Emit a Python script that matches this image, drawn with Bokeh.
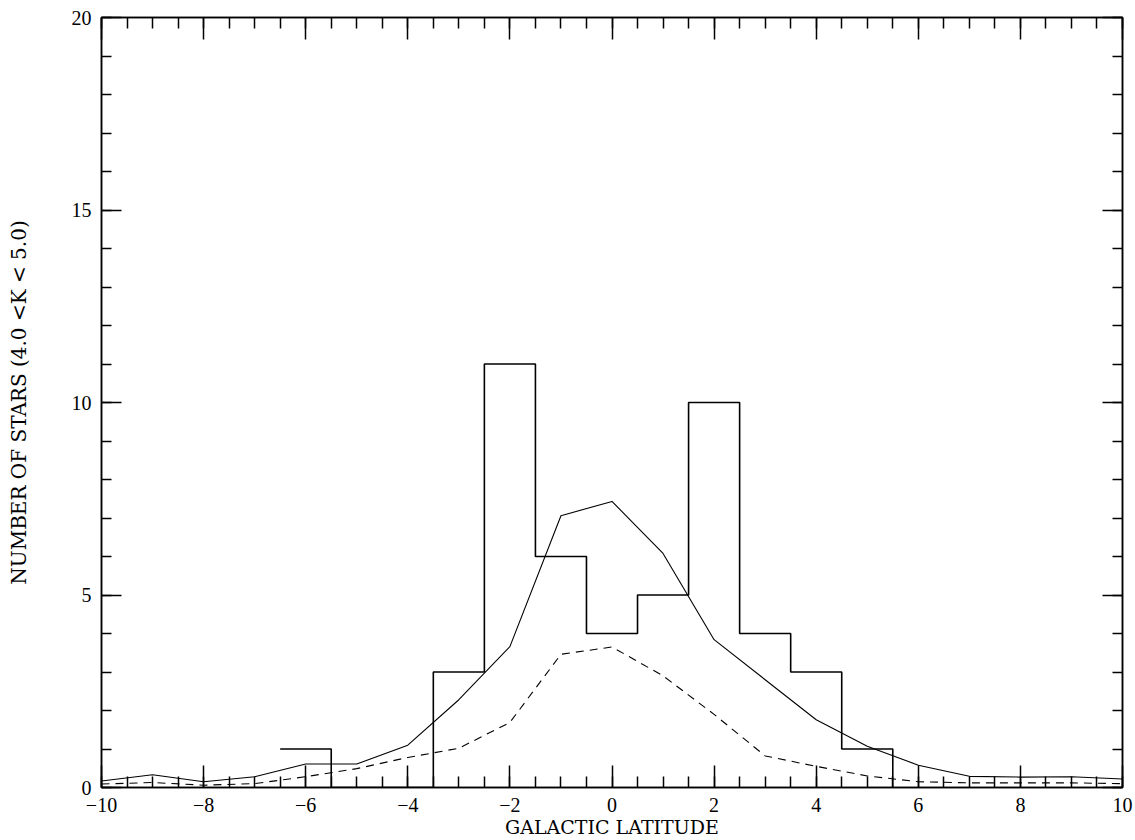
from bokeh.plotting import figure
from bokeh.models import LinearAxis, SingleIntervalTicker, Range1d
from bokeh.embed import file_html
from bokeh.resources import INLINE

# Histogram: left bin edges and counts (last edge closes the histogram)
hist_edges = [-6.5, -5.5, -4.5, -3.5, -2.5, -1.5, -0.5, 0.5, 1.5, 2.5, 3.5, 4.5, 5.5]
hist_counts = [1, 0, 0, 3, 11, 6, 4, 5, 10, 4, 3, 1, 0]

# Model curves at integer latitudes
lat = [-10, -9, -8, -7, -6, -5, -4, -3, -2, -1, 0, 1, 2, 3, 4, 5, 6, 7, 8, 9, 10]
model_solid = [0.17, 0.33, 0.15, 0.28, 0.61, 0.61, 1.10, 2.28, 3.66, 7.06, 7.43, 6.08, 3.84, 2.80, 1.76, 1.07, 0.58, 0.29, 0.27, 0.28, 0.22]
model_dashed = [0.09, 0.13, 0.06, 0.10, 0.28, 0.49, 0.78, 1.02, 1.69, 3.46, 3.65, 2.90, 1.90, 0.82, 0.55, 0.30, 0.15, 0.12, 0.12, 0.12, 0.10]

x_ticks = [-10, -8, -6, -4, -2, 0, 2, 4, 6, 8, 10]
y_ticks = [0, 5, 10, 15, 20]

TICK_FONT = "Liberation Serif"
LABEL_FONT = "DejaVu Serif"

p = figure(width=1135, height=840, output_backend="svg", toolbar_location=None,
           x_range=Range1d(-10, 10), y_range=Range1d(0, 20),
           min_border_left=101, min_border_right=13, min_border_top=17, min_border_bottom=53)
p.xgrid.visible = False
p.ygrid.visible = False
p.outline_line_color = "black"
p.outline_line_width = 1.5
p.background_fill_color = "white"
p.border_fill_color = "white"

def style_axis(ax, xaxis, show_labels):
    if xaxis:
        ax.ticker = SingleIntervalTicker(interval=2, num_minor_ticks=4)
        ax.major_tick_in = 22
        ax.minor_tick_in = 11
    else:
        ax.ticker = SingleIntervalTicker(interval=5, num_minor_ticks=5)
        ax.major_tick_in = 20
        ax.minor_tick_in = 10
    ax.major_tick_out = 0
    ax.minor_tick_out = 0
    ax.major_tick_line_color = "black"
    ax.minor_tick_line_color = "black"
    ax.major_tick_line_width = 1.5
    ax.minor_tick_line_width = 1.5
    ax.axis_line_color = "black"
    ax.axis_line_width = 1.5
    ax.major_label_text_font = TICK_FONT
    ax.major_label_text_font_size = "20px"
    ax.major_label_text_color = "black"
    if show_labels:
        ax.axis_label_text_font = LABEL_FONT
        ax.axis_label_text_font_style = "normal"
        ax.axis_label_text_color = "black"
    else:
        ticks = x_ticks if xaxis else y_ticks
        ax.major_label_overrides = {v: "" for v in ticks}
        ax.major_label_standoff = 0
        ax.axis_label = None

xa = p.xaxis[0]
style_axis(xa, True, True)
xa.axis_label = "GALACTIC LATITUDE"
xa.axis_label_text_font_size = "19px"
xa.major_label_standoff = 10
xa.axis_label_standoff = 1
xa.major_label_overrides = {v: (("\u2212" + str(-v)) if v < 0 else str(v)) for v in x_ticks}

ya = p.yaxis[0]
style_axis(ya, False, True)
ya.axis_label = "NUMBER OF STARS (4.0 <K < 5.0)"
ya.axis_label_text_font_size = "20px"
ya.major_label_standoff = 10
ya.axis_label_standoff = 38

top = LinearAxis()
style_axis(top, True, False)
p.add_layout(top, "above")
right = LinearAxis()
style_axis(right, False, False)
p.add_layout(right, "right")

p.step(x=hist_edges, y=hist_counts, mode="after", line_color="black", line_width=1.6)
p.line(lat, model_solid, line_color="black", line_width=1.1)
p.line(lat, model_dashed, line_color="black", line_width=1.1, line_dash="8 6")

open("out.html", "w").write(file_html(p, INLINE))
